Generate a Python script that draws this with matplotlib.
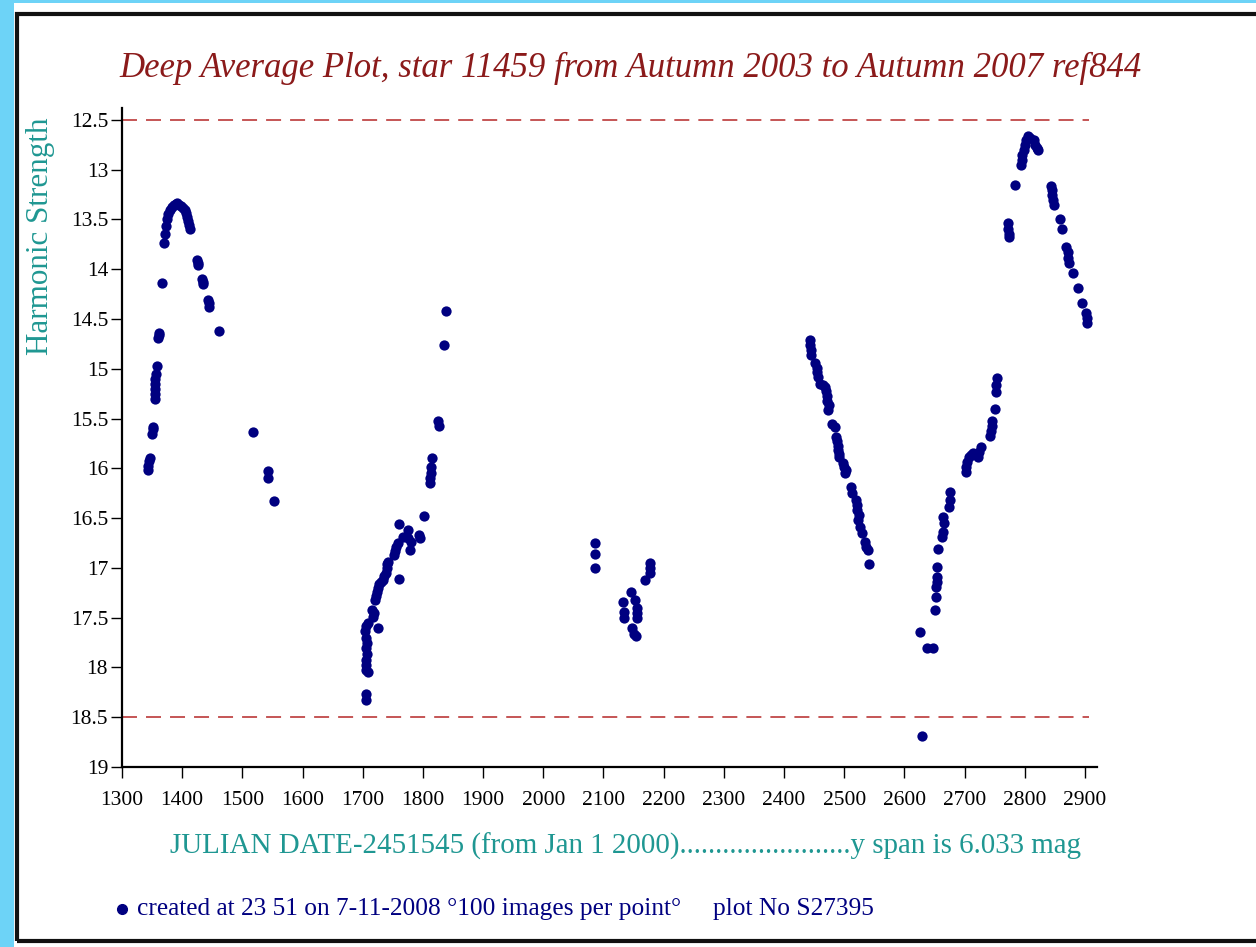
import matplotlib
matplotlib.use("Agg")
import matplotlib.pyplot as plt
from matplotlib.patches import Rectangle
from matplotlib.lines import Line2D

# julian date - 2451545
jd = [
    1343, 1344, 1345, 1346, 1350, 1351, 1352,
    1354, 1354, 1355, 1355, 1355, 1356, 1358,
    1360, 1361, 1362, 1366,
    1369, 1371, 1373, 1375, 1377, 1380, 1383, 1386, 1389, 1392, 1395, 1398,
    1401, 1404, 1406, 1408, 1410, 1411, 1413,
    1425, 1426, 1427, 1433, 1434, 1435, 1443, 1444, 1445, 1461,
    1518, 1542, 1543, 1553,
    1705, 1705, 1706, 1706, 1705, 1707, 1706, 1707, 1706, 1704, 1705, 1708, 1709,
    1717, 1718, 1716, 1725,
    1720, 1722, 1724, 1725, 1727, 1730,
    1734, 1736, 1738, 1740, 1741, 1742, 1760,
    1752, 1754, 1756, 1758,
    1760, 1767, 1775, 1778, 1776, 1780, 1793, 1795, 1802,
    1812, 1812, 1813, 1814, 1815, 1825, 1826, 1835, 1838,
    2086, 2086, 2086,
    2132, 2134, 2134, 2146, 2148, 2150, 2152, 2155, 2156, 2155, 2154, 2169,
    2177, 2177, 2178,
    2443, 2443, 2444, 2444, 2452, 2454, 2455, 2456, 2460, 2464, 2468,
    2470, 2471, 2472, 2474, 2473, 2480, 2484,
    2487, 2488, 2489, 2490, 2492, 2491, 2498, 2500, 2503, 2501, 2511, 2513,
    2519, 2521, 2522, 2524, 2523, 2527, 2530, 2534, 2537, 2540, 2541,
    2626, 2629, 2637, 2647, 2650, 2652, 2653, 2654, 2654, 2654, 2655,
    2662, 2664, 2666, 2664, 2674, 2675, 2676,
    2702, 2703, 2704, 2707, 2710, 2714, 2722, 2724, 2727,
    2743, 2744, 2745, 2746, 2750, 2752, 2753, 2754,
    2772, 2772, 2773, 2773, 2783,
    2794, 2795, 2796, 2798, 2800, 2802, 2805, 2808,
    2815, 2817, 2820, 2822,
    2844, 2845, 2846, 2847, 2849, 2858, 2862,
    2869, 2871, 2872, 2873, 2880, 2889, 2895, 2902, 2903, 2904,
]
mag = [
    16.02, 15.98, 15.93, 15.90, 15.65, 15.60, 15.58,
    15.30, 15.25, 15.20, 15.15, 15.10, 15.05, 14.97,
    14.69, 14.66, 14.64, 14.14,
    13.74, 13.65, 13.57, 13.50, 13.44, 13.40, 13.37, 13.35, 13.34, 13.33, 13.35, 13.36,
    13.38, 13.40, 13.43, 13.47, 13.52, 13.56, 13.60,
    13.91, 13.94, 13.96, 14.10, 14.13, 14.15, 14.31, 14.34, 14.38, 14.62,
    15.63, 16.03, 16.10, 16.33,
    18.33, 18.27, 18.03, 17.98, 17.93, 17.86, 17.80, 17.75, 17.70, 17.63, 17.58, 17.55, 18.05,
    17.49, 17.45, 17.42, 17.60,
    17.32, 17.28, 17.24, 17.20, 17.16, 17.14,
    17.12, 17.08, 17.05, 17.00, 16.96, 16.94, 17.11,
    16.87, 16.83, 16.79, 16.75,
    16.56, 16.69, 16.62, 16.82, 16.70, 16.74, 16.67, 16.70, 16.48,
    16.15, 16.10, 16.05, 15.99, 15.90, 15.52, 15.57, 14.76, 14.42,
    16.75, 16.86, 17.00,
    17.34, 17.44, 17.50, 17.24, 17.60, 17.66, 17.32, 17.40, 17.45, 17.50, 17.68, 17.12,
    16.95, 17.00, 17.05,
    14.71, 14.76, 14.81, 14.86, 14.94, 14.99, 15.03, 15.08, 15.15, 15.16, 15.18,
    15.22, 15.27, 15.32, 15.36, 15.41, 15.55, 15.58,
    15.69, 15.73, 15.78, 15.82, 15.86, 15.89, 15.95, 15.99, 16.02, 16.05, 16.19, 16.25,
    16.32, 16.37, 16.42, 16.47, 16.52, 16.59, 16.65, 16.74, 16.79, 16.82, 16.96,
    17.64, 18.69, 17.80, 17.80, 17.42, 17.29, 17.19, 17.14, 17.09, 16.99, 16.81,
    16.69, 16.64, 16.55, 16.49, 16.39, 16.32, 16.24,
    16.04, 15.99, 15.94, 15.89, 15.87, 15.85, 15.89, 15.84, 15.79,
    15.67, 15.62, 15.57, 15.52, 15.40, 15.23, 15.16, 15.09,
    13.54, 13.60, 13.65, 13.68, 13.15,
    12.95, 12.90, 12.85, 12.80, 12.75, 12.70, 12.66, 12.68,
    12.70, 12.75, 12.78, 12.80,
    13.16, 13.20, 13.25, 13.30, 13.35, 13.50, 13.60,
    13.78, 13.83, 13.89, 13.94, 14.04, 14.19, 14.34, 14.44, 14.49, 14.54,
]

limits = [12.5, 18.5]
xticks = list(range(1300, 3000, 100))
yticks = [12.5, 13, 13.5, 14, 14.5, 15, 15.5, 16, 16.5, 17, 17.5, 18, 18.5, 19]
ylabels = ["12.5", "13", "13.5", "14", "14.5", "15", "15.5", "16",
           "16.5", "17", "17.5", "18", "18.5", "19"]

title = "Deep Average Plot, star 11459 from Autumn 2003 to Autumn 2007 ref844"
xlab = ("JULIAN DATE-2451545 (from Jan 1 2000)"
        "........................y span is 6.033 mag")
ylab = "Harmonic Strength"
footer = "created at 23 51 on 7-11-2008 \u00b0100 images per point\u00b0     plot No S27395"

navy = "#000080"
teal = "#1f9792"
darkred = "#8b1a1a"
serif = ["Liberation Serif", "DejaVu Serif"]

plt.rcParams["font.family"] = serif

W, H = 1256, 947
fig = plt.figure(figsize=(W / 100, H / 100), dpi=100)
fig.patch.set_facecolor("white")

# blue page border and black frame
fig.add_artist(Rectangle((0, 0), 14 / W, 1, transform=fig.transFigure,
                         color="#6dd3f7", lw=0))
fig.add_artist(Rectangle((0, 1 - 3 / H), 1, 3 / H, transform=fig.transFigure,
                         color="#6dd3f7", lw=0))
fig.add_artist(Rectangle((16.5 / W, 1 - 941 / H), 1.2, (941 - 14) / H,
                         transform=fig.transFigure, fill=False,
                         edgecolor="#111111", lw=3))

ax = fig.add_axes([122 / W, 1 - 767 / H, (1097 - 122) / W, (767 - 108) / H])
ax.plot(jd, mag, "o", color=navy, ms=7.4, mec="none", zorder=3)
for lv in limits:
    ax.plot([1300, 2906], [lv, lv], color="#c04848", lw=1.3,
            dashes=(8.3, 5), zorder=2)

ax.set_xlim(1300, 2920)
ax.set_ylim(19, 12.38)
ax.set_xticks(xticks)
ax.set_yticks(yticks)
ax.set_yticklabels(ylabels)
for s in ["top", "right"]:
    ax.spines[s].set_visible(False)
for s in ["left", "bottom"]:
    ax.spines[s].set_linewidth(1.6)
ax.tick_params(direction="out", length=8, width=1, labelsize=15.5)
ax.tick_params(axis="x", pad=9)
ax.tick_params(axis="y", pad=2)

fig.text(0.502, 1 - 68 / H, title, ha="center", va="center", fontsize=25,
         style="italic", color=darkred)
fig.text(41 / W, 1 - 236 / H, ylab, ha="center", va="center", rotation=90,
         fontsize=22.4, color=teal)
fig.text(626 / W, 1 - 846 / H, xlab, ha="center", va="center", fontsize=20.9,
         color=teal)
fig.add_artist(Line2D([122 / W], [1 - 909 / H], transform=fig.transFigure,
                      marker="o", ms=7, color=navy, lw=0))
fig.text(137 / W, 1 - 909 / H, footer, ha="left", va="center", fontsize=18.3,
         color=navy)

fig.savefig("out.png", dpi=100)
